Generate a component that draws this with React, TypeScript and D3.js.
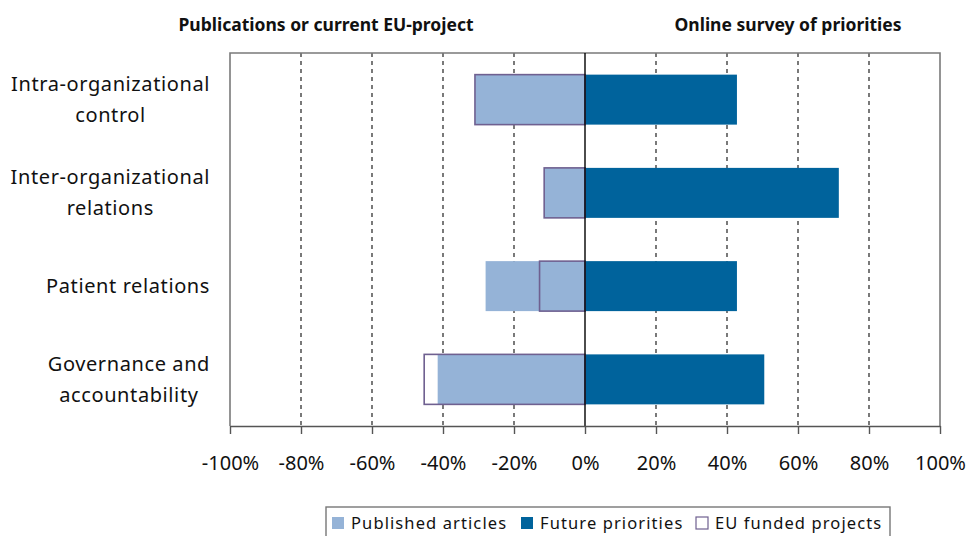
import * as d3 from "d3";
import { useEffect, useRef } from "react";

const categories = [
  ["Intra-organizational", "control"],
  ["Inter-organizational", "relations"],
  ["Patient relations"],
  ["Governance and", "accountability"],
];
const published = [-31, -11.5, -28, -41.5];
const euFunded = [-31, -11.5, -12.8, -45.3];
const future = [42.8, 71.5, 42.8, 50.5];
const xTicks = [-100, -80, -60, -40, -20, 0, 20, 40, 60, 80, 100];
const legendItems = ["Published articles", "Future priorities", "EU funded projects"];

const W = 968;
const H = 536;
const FONT = "'Noto Sans', 'Open Sans', sans-serif";
const LIGHT = "#95b3d7";
const DARK = "#00639c";
const OUTLINE = "#6f6090";

export default function App() {
  const ref = useRef<SVGSVGElement | null>(null);

  useEffect(() => {
    document.body.style.margin = "0";
    const el = ref.current;
    if (!el) return;
    const svg = d3.select(el);
    svg.selectAll("*").remove();

    const margin = { top: 53, right: 28, bottom: 110, left: 230 };
    const x = d3.scaleLinear().domain([-100, 100]).range([margin.left, W - margin.right]);
    const y = d3
      .scaleBand<number>()
      .domain(d3.range(categories.length))
      .range([margin.top, H - margin.bottom])
      .paddingInner(0.464)
      .paddingOuter(0.232);

    // headers
    const header = (cx: number, txt: string) =>
      svg
        .append("text")
        .attr("x", cx)
        .attr("y", 31)
        .attr("text-anchor", "middle")
        .attr("font-family", FONT)
        .attr("font-weight", 700)
        .attr("font-size", 17.5)
        .attr("fill", "#111")
        .text(txt);
    header(326, "Publications or current EU-project");
    header(788, "Online survey of priorities");

    // dashed grid
    svg
      .append("g")
      .selectAll("line")
      .data(xTicks.filter((t) => t !== 0 && Math.abs(t) !== 100))
      .enter()
      .append("line")
      .attr("x1", (d) => x(d))
      .attr("x2", (d) => x(d))
      .attr("y1", margin.top)
      .attr("y2", H - margin.bottom)
      .attr("stroke", "#333")
      .attr("stroke-width", 1.3)
      .attr("stroke-dasharray", "4,4");

    // frame (left, top, right)
    svg
      .append("path")
      .attr(
        "d",
        `M${x(-100)},${H - margin.bottom} V${margin.top} H${x(100)} V${H - margin.bottom}`
      )
      .attr("fill", "none")
      .attr("stroke", "#7a7a7a")
      .attr("stroke-width", 1.6);

    // bars
    const bh = y.bandwidth();
    svg
      .append("g")
      .selectAll("rect")
      .data(published)
      .enter()
      .append("rect")
      .attr("x", (d) => x(d))
      .attr("y", (_, i) => y(i) ?? 0)
      .attr("width", (d) => x(0) - x(d))
      .attr("height", bh)
      .attr("fill", LIGHT);

    svg
      .append("g")
      .selectAll("rect")
      .data(future)
      .enter()
      .append("rect")
      .attr("x", x(0))
      .attr("y", (_, i) => y(i) ?? 0)
      .attr("width", (d) => x(d) - x(0))
      .attr("height", bh)
      .attr("fill", DARK);

    svg
      .append("g")
      .selectAll("rect")
      .data(euFunded)
      .enter()
      .append("rect")
      .attr("x", (d) => x(d))
      .attr("y", (_, i) => y(i) ?? 0)
      .attr("width", (d) => x(0) - x(d))
      .attr("height", bh)
      .attr("fill", "none")
      .attr("stroke", OUTLINE)
      .attr("stroke-width", 1.6);

    // zero line
    svg
      .append("line")
      .attr("x1", x(0))
      .attr("x2", x(0))
      .attr("y1", margin.top)
      .attr("y2", H - margin.bottom)
      .attr("stroke", "#000")
      .attr("stroke-width", 1.4);

    // bottom axis
    const axis = svg
      .append("g")
      .attr("transform", `translate(0,${H - margin.bottom})`)
      .call(
        d3
          .axisBottom(x)
          .tickValues(xTicks)
          .tickSize(8)
          .tickSizeOuter(0)
          .tickPadding(22)
          .tickFormat((d) => `${d}%`)
      );
    axis.selectAll("path,line").attr("stroke", "#555").attr("stroke-width", 1.4);
    axis
      .selectAll("text")
      .attr("fill", "#111")
      .attr("font-family", FONT)
      .attr("font-size", 20);

    // category labels
    const labelRight = 210;
    categories.forEach((lines, i) => {
      const cy = (y(i) ?? 0) + bh / 2;
      const lh = 31;
      const g = svg.append("g");
      const texts = lines.map((ln, j) =>
        g
          .append("text")
          .attr("y", cy + (j - (lines.length - 1) / 2) * lh)
          .attr("dy", "0.35em")
          .attr("text-anchor", "middle")
          .attr("font-family", FONT)
          .attr("font-size", 20)
          .attr("letter-spacing", 0.6)
          .attr("fill", "#111")
          .text(ln)
      );
      const widths = texts.map((t) => (t.node() as SVGTextElement).getComputedTextLength());
      const maxW = Math.max(...widths);
      texts.forEach((t) => t.attr("x", labelRight - maxW / 2));
    });

    // legend
    const lg = svg.append("g");
    lg.append("rect")
      .attr("x", 326)
      .attr("y", 507)
      .attr("width", 564)
      .attr("height", 40)
      .attr("fill", "#fff")
      .attr("stroke", "#777")
      .attr("stroke-width", 1.4);
    const swX = [332, 521, 696];
    legendItems.forEach((name, i) => {
      const sw = lg
        .append("rect")
        .attr("x", swX[i])
        .attr("y", 517)
        .attr("width", 12)
        .attr("height", 12);
      if (i === 0) sw.attr("fill", LIGHT);
      else if (i === 1) sw.attr("fill", DARK);
      else sw.attr("fill", "#fff").attr("stroke", OUTLINE).attr("stroke-width", 1.2);
      lg.append("text")
        .attr("x", swX[i] + 19)
        .attr("y", 523)
        .attr("dy", "0.35em")
        .attr("font-family", FONT)
        .attr("font-size", 16.5)
        .attr("letter-spacing", 1.1)
        .attr("fill", "#111")
        .text(name);
    });
  }, []);

  return <svg ref={ref} width={W} height={H} style={{ display: "block", background: "#fff" }} />;
}
